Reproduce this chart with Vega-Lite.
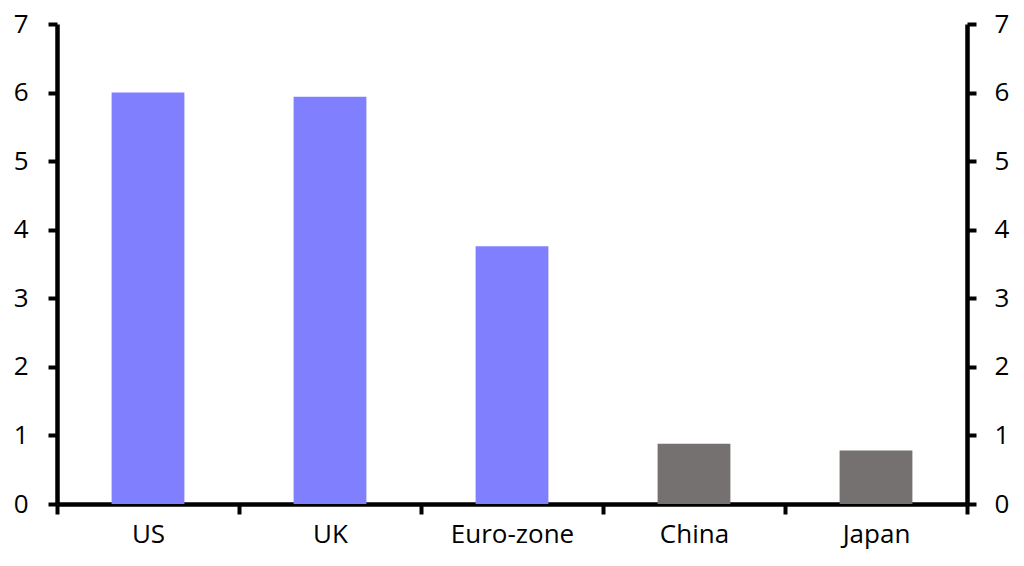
{
  "$schema": "https://vega.github.io/schema/vega-lite/v6.json",
  "autosize": "none",
  "width": 910,
  "height": 480,
  "padding": {"left": 57, "top": 24, "right": 57, "bottom": 62},
  "background": "white",
  "config": {"view": {"stroke": null}, "font": "Open Sans"},
  "data": {"values": [
    {"country": "US", "value": 6.0, "group": "dm"},
    {"country": "UK", "value": 5.94, "group": "dm"},
    {"country": "Euro-zone", "value": 3.76, "group": "dm"},
    {"country": "China", "value": 0.88, "group": "em"},
    {"country": "Japan", "value": 0.78, "group": "em"}
  ]},
  "encoding": {
    "x": {"field": "country", "type": "nominal", "sort": null,
      "scale": {"paddingInner": 0, "paddingOuter": 0},
      "axis": {"title": null, "labelAngle": 0, "labelFontSize": 26, "labelColor": "black", "labelFont": "Open Sans",
        "domainColor": "black", "domainWidth": 4.5, "tickColor": "black", "tickWidth": 4, "tickSize": 10,
        "tickBand": "extent", "labelPadding": 7, "grid": false}}
  },
  "layer": [
    {
      "mark": {"type": "bar", "width": {"band": 0.4}},
      "encoding": {
        "y": {"field": "value", "type": "quantitative",
          "scale": {"domain": [0, 7], "nice": false},
          "axis": {"orient": "left", "title": null, "values": [0,1,2,3,4,5,6,7], "labelFontSize": 26, "labelColor": "black",
            "domainColor": "black", "domainWidth": 4.5, "tickColor": "black", "tickWidth": 4, "tickSize": 9,
            "labelPadding": 20, "grid": false, "labelFont": "Open Sans"}},
        "color": {"field": "group", "type": "nominal", "legend": null,
          "scale": {"domain": ["dm", "em"], "range": ["#8080FF", "#767171"]}}
      }
    },
    {
      "mark": {"type": "bar", "opacity": 0, "width": {"band": 0.4}},
      "encoding": {
        "y": {"field": "value", "type": "quantitative",
          "scale": {"domain": [0, 7], "nice": false},
          "axis": {"orient": "right", "title": null, "values": [0,1,2,3,4,5,6,7], "labelFontSize": 26, "labelColor": "black",
            "domainColor": "black", "domainWidth": 4.5, "tickColor": "black", "tickWidth": 4, "tickSize": 9,
            "labelPadding": 18, "grid": false, "labelFont": "Open Sans"}}
      }
    }
  ],
  "resolve": {"axis": {"y": "independent"}}
}
